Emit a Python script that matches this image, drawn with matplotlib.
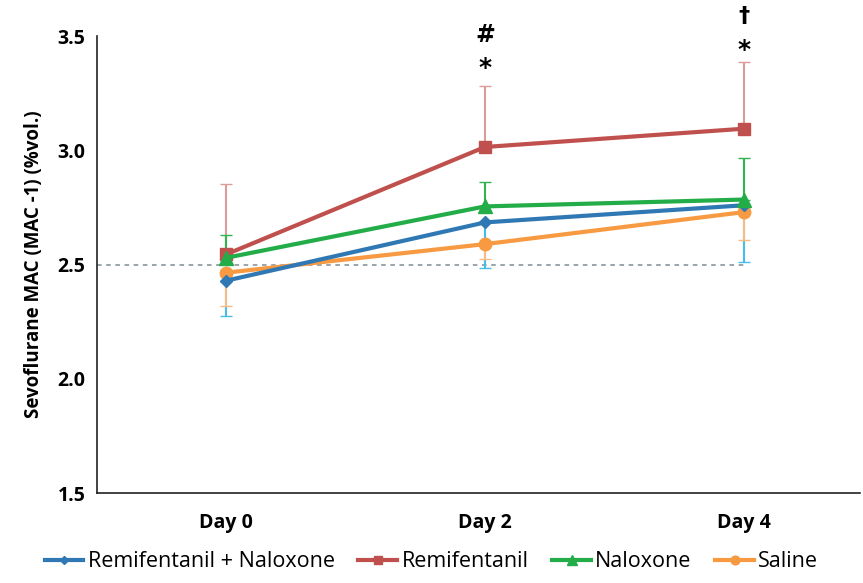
import numpy as np
import matplotlib.pyplot as plt

plt.rcParams['font.family'] = ['Open Sans', 'DejaVu Sans']

# Data
days = ["Day 0", "Day 2", "Day 4"]
remi_nalox = [2.43, 2.685, 2.76]
remi_nalox_err = [0.155, 0.20, 0.25]      # lower only
remi = [2.545, 3.015, 3.095]
remi_err = [0.31, 0.265, 0.29]            # upper only
nalox = [2.53, 2.755, 2.785]
nalox_err = [0.10, 0.105, 0.18]           # upper only
saline = [2.465, 2.59, 2.73]
saline_err = [0.145, 0.065, 0.12]         # lower only
baseline = 2.5

x = np.arange(len(days))
zeros = np.zeros(len(days))

fig = plt.figure(figsize=(8.63, 5.83), dpi=100)
ax = fig.add_axes([0.112, 0.154, 0.885, 0.784])

# dashed reference line
ax.plot([-0.5, 2], [baseline, baseline], linestyle=(0, (3, 3)), color='#7f8c95', lw=1.1, zorder=1)

# error bars (one-sided, like the original)
ax.errorbar(x, remi, yerr=[zeros, remi_err], fmt='none', ecolor='#dc9a98', elinewidth=1.5, capsize=4, zorder=2)
ax.errorbar(x, nalox, yerr=[zeros, nalox_err], fmt='none', ecolor='#2fb450', elinewidth=1.5, capsize=4, zorder=2)
ax.errorbar(x, remi_nalox, yerr=[remi_nalox_err, zeros], fmt='none', ecolor='#45bde6', elinewidth=1.5, capsize=4, zorder=2)
ax.errorbar(x, saline, yerr=[saline_err, zeros], fmt='none', ecolor='#f9bb86', elinewidth=1.5, capsize=4, zorder=2)

ax.plot(x, saline, color='#f79a42', lw=3, marker='o', ms=9, label='Saline', zorder=3)
ax.plot(x, remi_nalox, color='#2f78b4', lw=3, marker='D', ms=6, label='Remifentanil + Naloxone', zorder=4)
ax.plot(x, nalox, color='#22ad48', lw=3, marker='^', ms=10, label='Naloxone', zorder=5)
ax.plot(x, remi, color='#c0504d', lw=3, marker='s', ms=9, label='Remifentanil', zorder=3)

# significance marks
ax.text(1, 3.505, '#', ha='center', va='center', fontsize=17, fontweight='bold', family='DejaVu Sans')
ax.text(1, 3.36, '*', ha='center', va='center', fontsize=18, fontweight='bold', family='DejaVu Sans')
ax.text(2, 3.59, '\u2020', ha='center', va='center', fontsize=16, fontweight='bold',
        family='DejaVu Sans', clip_on=False)
ax.text(2, 3.44, '*', ha='center', va='center', fontsize=18, fontweight='bold',
        family='DejaVu Sans', clip_on=False)

ax.set_xlim(-0.5, 2.45)
ax.set_ylim(1.5, 3.5)
ax.set_yticks([1.5, 2.0, 2.5, 3.0, 3.5])
ax.set_yticklabels(['1.5', '2.0', '2.5', '3.0', '3.5'], fontsize=14, fontweight='bold')
ax.set_xticks(x)
ax.set_xticklabels(days, fontsize=14, fontweight='bold')
ax.tick_params(axis='x', length=0, pad=14)
ax.tick_params(axis='y', length=0, pad=8)
ax.set_ylabel('Sevoflurane MAC (MAC -1) (%vol.)', fontsize=13.5, fontweight='bold', labelpad=10)

for s in ['top', 'right']:
    ax.spines[s].set_visible(False)
for s in ['left', 'bottom']:
    ax.spines[s].set_color('#222222')
    ax.spines[s].set_linewidth(1.2)

handles, labels = ax.get_legend_handles_labels()
order = [1, 3, 2, 0]
leg = fig.legend([handles[i] for i in order], [labels[i] for i in order],
                 loc='lower center', bbox_to_anchor=(0.5, -0.015), ncol=4, frameon=False,
                 fontsize=15.5, handlelength=1.8, handletextpad=0.2, columnspacing=1.1,
                 markerscale=0.7)

fig.savefig('out.png', dpi=100)
